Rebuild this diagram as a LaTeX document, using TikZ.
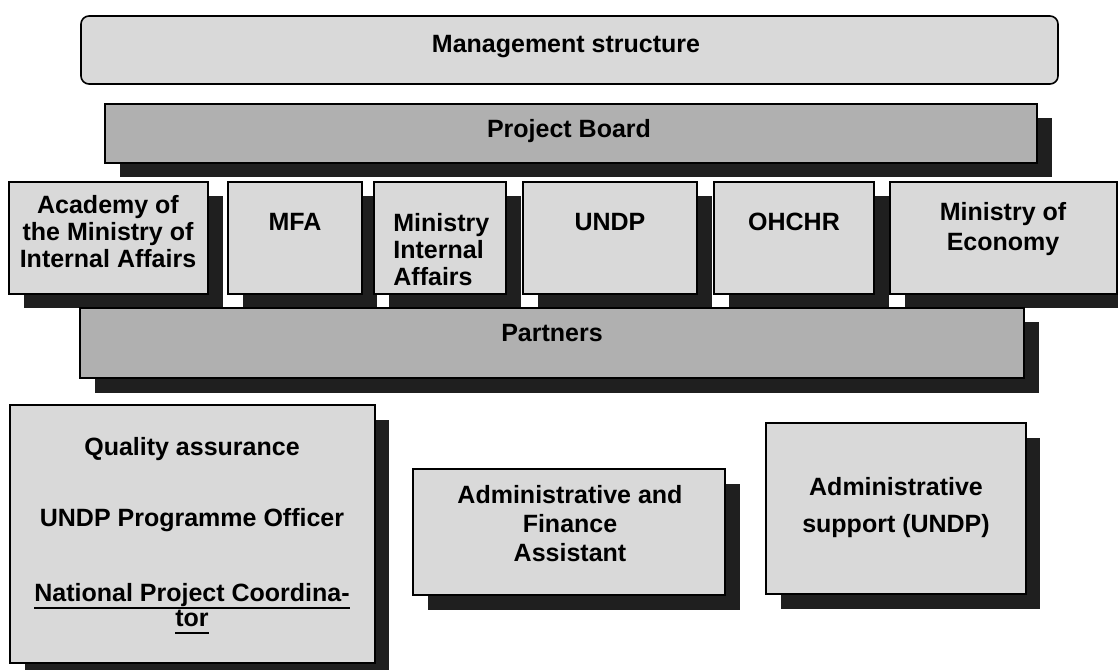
\documentclass[tikz,border=0pt]{standalone}
\usepackage{fontspec}
\setmainfont{Liberation Sans}

\definecolor{paleboard}{gray}{0.85}
\definecolor{midboard}{gray}{0.69}
\definecolor{dropshade}{gray}{0.12}

% underline with a fixed depth under the baseline
\newcommand{\ulbar}[1]{\setbox0\hbox{#1}\rlap{\rule[-3.5pt]{\wd0}{0.9pt}}\box0}

\begin{document}
\begin{tikzpicture}[x=0.5pt, y=-0.5pt,
    txt/.style={font=\fontsize{12.5}{13.5}\selectfont\bfseries, align=center, inner sep=0pt},
    pale/.style={draw=black, line width=0.8pt, fill=paleboard},
    mid/.style={draw=black, line width=0.8pt, fill=midboard},
    drop/.style={fill=dropshade}]

% keep the page the size of the original sheet
\useasboundingbox (0,0) rectangle (1118,669);

% rounded title bar at the top, no shadow
\draw[pale, rounded corners=4pt] (81,16) rectangle (1058,84);
\node[txt] (mgmt) at (566,47) {Management structure};

% project board bar with its dark shadow
\fill[drop] (120,118) rectangle (1052,177);
\draw[mid] (105,104) rectangle (1037,163);
\node[txt] (board) at (569,131) {Project Board};

% row of the six partner boxes: all shadows first, then the boxes on top
\foreach \xa/\xb in {9/208, 228/362, 374/506, 523/697, 714/874, 890/1117}
    \fill[drop] (\xa+15,196) rectangle (\xb+15,308);
\foreach \xa/\xb in {9/208, 228/362, 374/506, 523/697, 714/874, 890/1117}
    \draw[pale] (\xa,182) rectangle (\xb,294);

% names in the row
\node[txt, anchor=north] (academy) at (108,195) {Academy of\\the Ministry of\\Internal Affairs};
\node[txt, anchor=north] (mfa) at (295,213) {MFA};
\node[txt, anchor=north west, align=left] (interior) at (393,213) {Ministry\\Internal\\Affairs};
\node[txt, anchor=north] (undp) at (610,213) {UNDP};
\node[txt, anchor=north] (ohchr) at (794,213) {OHCHR};
\node[txt, anchor=north] (economy) at (1003,202) {Ministry of\\[1.5pt]Economy};

% partners bar under the row
\fill[drop] (95,322) rectangle (1039,393);
\draw[mid] (80,308) rectangle (1024,378);
\node[txt] (partners) at (552,333) {Partners};

% big box bottom left, its shadow runs off the page
\fill[drop] (25,420) rectangle (389,677);
\draw[pale] (10,405) rectangle (375,663);
\node[txt, anchor=north] (quality) at (192,437) {Quality assurance\\[22pt]UNDP Programme Officer\\[24pt]\ulbar{National Project Coordina-}\\[-1pt]\ulbar{tor}};

% middle box
\fill[drop] (428,484) rectangle (740,610);
\draw[pale] (413,469) rectangle (725,595);
\node[txt, anchor=north] (finance) at (570,485) {Administrative and\\[1pt]Finance\\[1pt]Assistant};

% right box
\fill[drop] (781,438) rectangle (1040,609);
\draw[pale] (766,423) rectangle (1026,594);
\node[txt, anchor=north] (support) at (896,477) {Administrative\\[5pt]support (UNDP)};

\end{tikzpicture}
\end{document}
